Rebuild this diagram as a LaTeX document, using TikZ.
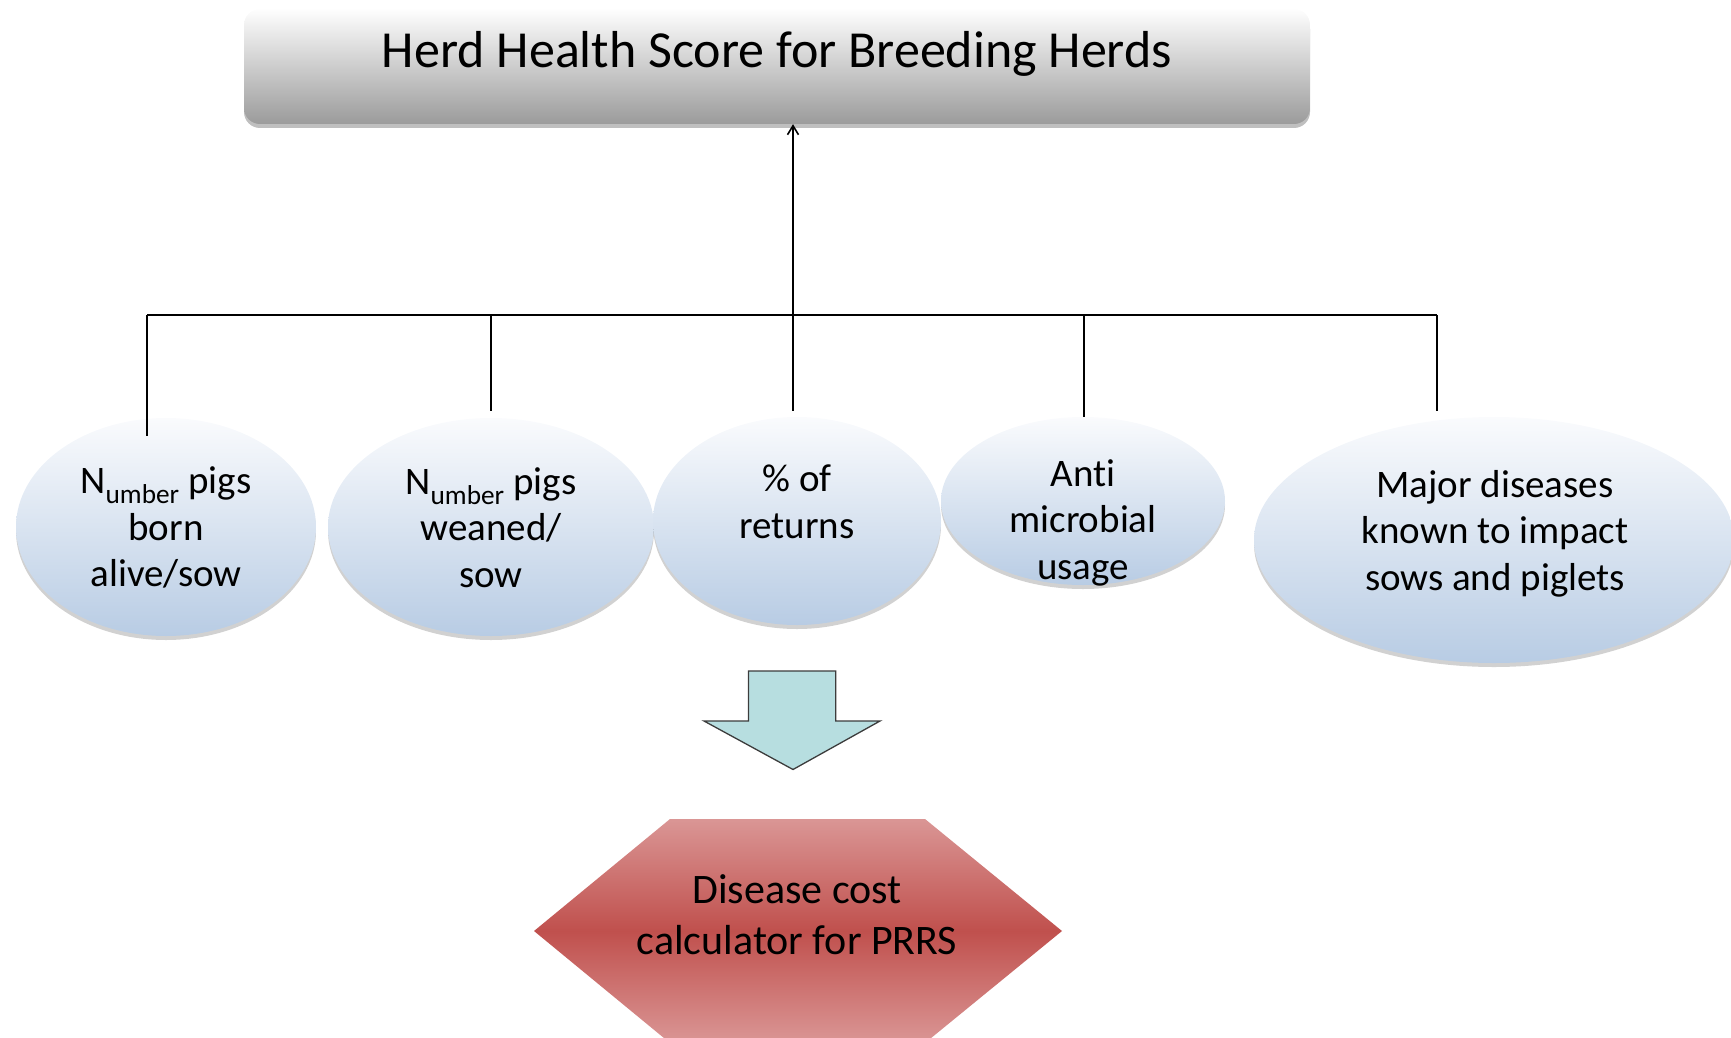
\documentclass[tikz,border=0pt]{standalone}
\usepackage{fontspec}
\setmainfont{Carlito}[Ligatures=CommonOff]
\usetikzlibrary{shapes.geometric,shadows,arrows.meta}
\definecolor{ellTop}{RGB}{250,251,253}
\definecolor{ellBot}{RGB}{184,204,228}
\definecolor{titleTop}{RGB}{254,254,254}
\definecolor{titleBot}{RGB}{155,155,155}
\definecolor{hexLight}{RGB}{218,150,149}
\definecolor{hexDark}{RGB}{192,80,77}
\definecolor{arrowFill}{RGB}{183,222,224}
\definecolor{arrowLine}{RGB}{60,60,60}
\begin{document}
\begin{tikzpicture}[x=1pt,y=-1pt,
  titlebox/.style={rectangle, rounded corners=16pt, minimum width=1066pt, minimum height=115pt,
    inner sep=0pt, top color=titleTop, bottom color=titleBot, draw=none,
    drop shadow={shadow xshift=0pt, shadow yshift=-4pt, opacity=0.25, fill=black}},
  titletext/.style={font=\fontsize{52}{62}\selectfont, inner sep=0pt},
  ell/.style={ellipse, inner sep=0pt, top color=ellTop, bottom color=ellBot, draw=none,
    drop shadow={shadow xshift=0pt, shadow yshift=-4pt, opacity=0.18, fill=black}},
  lbl/.style={align=center, font=\fontsize{39}{46.5}\selectfont, inner sep=0pt},
  biglbl/.style={align=center, font=\fontsize{42}{51}\selectfont, inner sep=0pt},
  wire/.style={line width=1.6pt, draw=black}]
\useasboundingbox (0,0) rectangle (1731,1038);

% title
\node[titlebox] (title) at (777,66.5) {};
\node[titletext] (titletxt) at (777,54) {Herd Health Score for Breeding Herds};

% ellipses
\node[ell, minimum width=300pt, minimum height=218pt] (e1) at (166,527) {};
\node[ell, minimum width=326pt, minimum height=218pt] (e2) at (491,527) {};
\node[ell, minimum width=288pt, minimum height=208pt] (e3) at (797,521) {};
\node[ell, minimum width=284pt, minimum height=168pt] (e4) at (1083,501) {};
\node[ell, minimum width=480pt, minimum height=246pt] (e5) at (1494,540) {};

\node[lbl] (l1) at (166,527.5) {N\textsubscript{umber} pigs\\born\\alive/sow};
\node[lbl] (l2) at (491,527.5) {N\textsubscript{umber} pigs\\weaned/\\sow};
\node[lbl] (l3) at (797,502) {\% of\\returns};
\node[lbl] (l4) at (1083,522.5) {Anti\\microbial\\usage};
\node[lbl] (l5) at (1495,533.5) {Major diseases\\known to impact\\sows and piglets};

% connector tree
\coordinate (b1) at (147,315);
\coordinate (b2) at (491,315);
\coordinate (b3) at (793,315);
\coordinate (b4) at (1084,315);
\coordinate (b5) at (1437,315);
\coordinate (t1) at (147,436);
\coordinate (t2) at (491,411);
\coordinate (t3) at (793,411);
\coordinate (t4) at (1084,417);
\coordinate (t5) at (1437,411);
\draw[wire] (b1) -- (b5);
\draw[wire] (b1) -- (t1);
\draw[wire] (b2) -- (t2);
\draw[wire] (b3) -- (t3);
\draw[wire] (b4) -- (t4);
\draw[wire] (b5) -- (t5);
\draw[wire, -{Straight Barb[length=9pt,width=11pt]}] (b3) -- (b3 |- title.south);

% down arrow
\draw[fill=arrowFill, draw=arrowLine, line width=1.3pt, line join=miter]
  (748.5,671) -- (835.7,671) -- (835.7,721) -- (880,721) -- (793,769.5)
  -- (704,721) -- (748.5,721) -- cycle;

% hexagon
\path[top color=hexLight, bottom color=hexLight, middle color=hexDark]
  (670,819) -- (925,819) -- (1062,931) -- (925,1043) -- (670,1043) -- (534,931) -- cycle;
\node[biglbl] (calc) at (797,915) {Disease cost\\calculator for PRRS};
\end{tikzpicture}
\end{document}
